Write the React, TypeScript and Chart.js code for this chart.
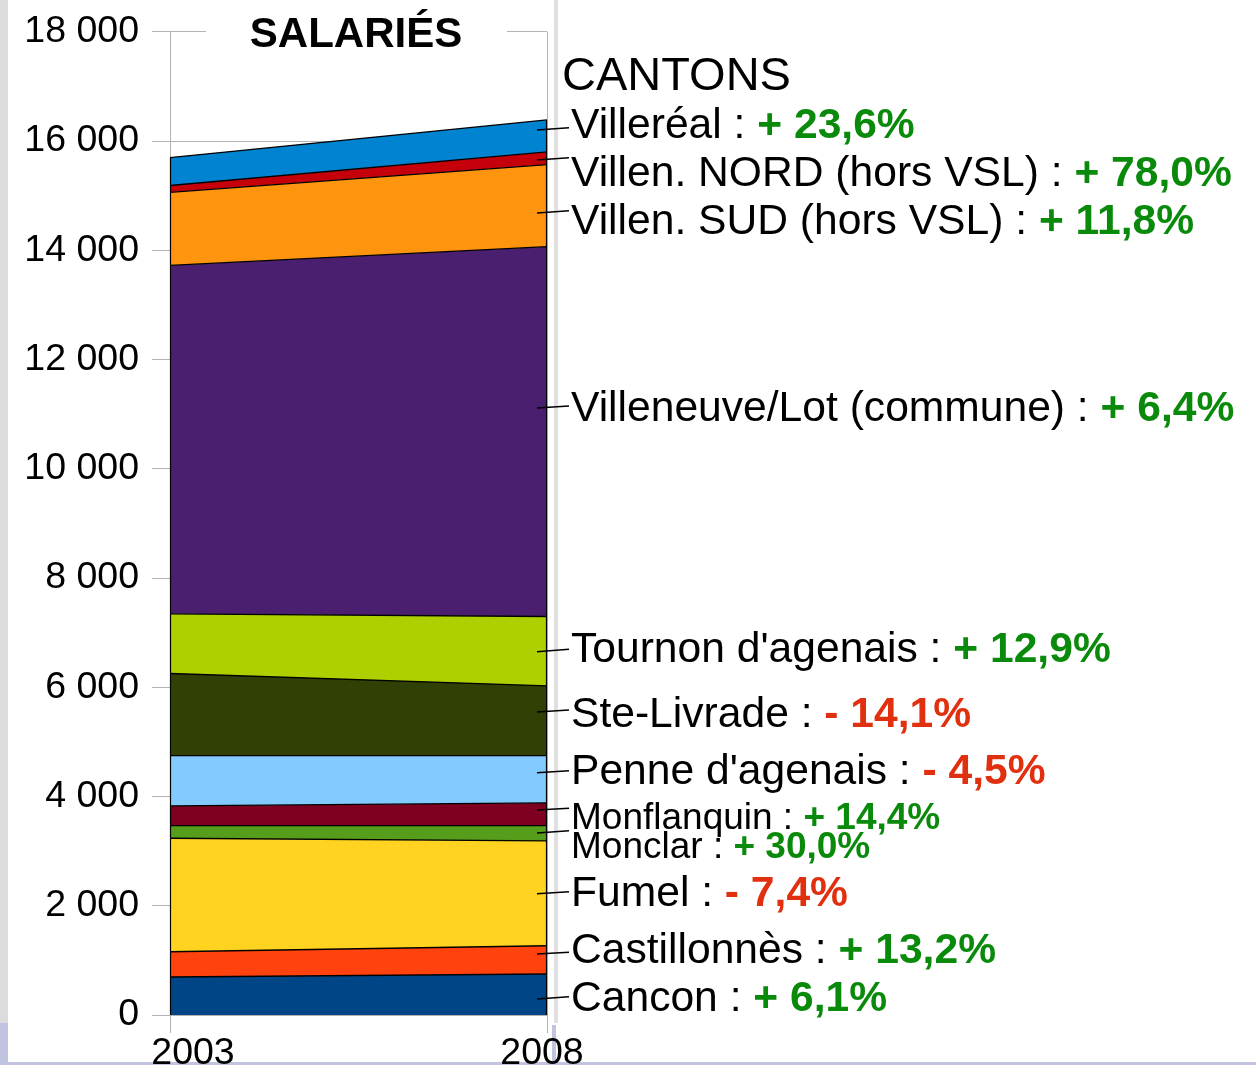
import React, { useEffect, useRef } from 'react';
import { Chart, registerables } from 'chart.js';
Chart.register(...registerables);

// ---- data ----
const years = ['2003', '2008'];
const cantons = [
  'Cancon', 'Castillonnès', 'Fumel', 'Monclar', 'Monflanquin', "Penne d'agenais",
  'Ste-Livrade', "Tournon d'agenais", 'Villeneuve/Lot (commune)',
  'Villen. SUD (hors VSL)', 'Villen. NORD (hors VSL)', 'Villeréal',
];
const cancon = [696, 751];
const castillonnes = [463, 518];
const fumel = [2077, 1918];
const monclar = [231, 280];
const monflanquin = [361, 416];
const penne = [921, 866];
const steLivrade = [1502, 1277];
const tournon = [1093, 1269];
const villeneuve = [6379, 6771];
const villenSud = [1337, 1502];
const villenNord = [125, 232];
const villereal = [511, 586];
const variations = ['+ 6,1%', '+ 13,2%', '- 7,4%', '+ 30,0%', '+ 14,4%', '- 4,5%', '- 14,1%', '+ 12,9%', '+ 6,4%', '+ 11,8%', '+ 78,0%', '+ 23,6%'];
const yMin = 0;
const yMax = 18000;
const yStep = 2000;
const title = 'SALARIÉS';
const legendTitle = 'CANTONS';

// ---- styles / layout ----
const seriesValues = [cancon, castillonnes, fumel, monclar, monflanquin, penne, steLivrade, tournon, villeneuve, villenSud, villenNord, villereal];
const fillColors = ['#004586', '#ff420e', '#ffd320', '#579d1c', '#7e0021', '#83caff', '#314004', '#aecf00', '#4b1f6f', '#ff950e', '#c5000b', '#0084d1'];
const labelCenterY = [996, 948, 890.5, 845, 815.5, 769, 712, 647, 406, 219, 171, 122.5];
const labelFontSize = [42.6, 42.6, 42.6, 37, 37, 42.6, 42.6, 42.6, 42.6, 42.6, 42.6, 42.6];
const leaderStartY = [999, 954, 893.7, 833, 810, 772.7, 712, 651.7, 408, 213, 160, 130];
const leaderEndY = [996.7, 952.3, 891.7, 830.7, 808.3, 770.7, 710, 649.3, 406, 210.7, 157.7, 127.7];
const FONT = "'Liberation Sans', Arial, sans-serif";
const GREEN = '#0a8a0a';
const RED = '#e0300f';
const GRID = '#b3b3b3';

function fmt(v: number): string {
  if (v < 1000) return String(v);
  return `${Math.floor(v / 1000)} ${String(v % 1000).padStart(3, '0')}`;
}

const decorPlugin = {
  id: 'decor',
  beforeDraw(chart: any) {
    const ctx = chart.ctx;
    const W = chart.width, H = chart.height;
    ctx.save();
    ctx.fillStyle = '#ffffff';
    ctx.fillRect(0, 0, W, H);
    ctx.fillStyle = '#dcdcdc';
    ctx.fillRect(0, 0, 8, 1023);
    ctx.fillStyle = '#e0e0e0';
    ctx.fillRect(554, 0, 4, 1023);
    ctx.fillStyle = '#c0c4e0';
    ctx.fillRect(0, 1023, 8, H - 1023);
    ctx.fillRect(552, 1025, 4, H - 1025);
    ctx.fillRect(0, 1062, W, H - 1062);
    ctx.restore();
  },
  afterDatasetsDraw(chart: any) {
    const ctx = chart.ctx;
    const x = chart.scales.x, y = chart.scales.y;
    ctx.save();
    ctx.strokeStyle = '#000';
    ctx.lineWidth = 1.2;
    years.forEach((_, i) => {
      const total = seriesValues.reduce((s, arr) => s + arr[i], 0);
      const px = Math.round(x.getPixelForValue(i)) + 0.5 * (i === 0 ? 1 : -1);
      ctx.beginPath();
      ctx.moveTo(px, y.getPixelForValue(0));
      ctx.lineTo(px, y.getPixelForValue(total));
      ctx.stroke();
    });
    ctx.restore();
  },
  afterDraw(chart: any) {
    const ctx = chart.ctx;
    const x = chart.scales.x;
    ctx.save();
    // title with white background over the top grid line
    ctx.fillStyle = '#ffffff';
    ctx.fillRect(206, 18, 301, 28);
    ctx.fillStyle = '#000';
    ctx.font = `bold 42px ${FONT}`;
    ctx.textAlign = 'center';
    ctx.textBaseline = 'alphabetic';
    ctx.fillText(title, 356, 47);

    // x labels
    ctx.font = `37.5px ${FONT}`;
    ctx.fillText(years[0], x.getPixelForValue(0) + 23, 1064);
    ctx.fillText(years[1], x.getPixelForValue(1) - 5, 1064);

    // legend title
    ctx.textAlign = 'left';
    ctx.font = `47px ${FONT}`;
    ctx.fillText(legendTitle, 562, 90);

    // leaders
    ctx.strokeStyle = '#000';
    ctx.lineWidth = 1.5;
    cantons.forEach((_, i) => {
      ctx.beginPath();
      ctx.moveTo(537, leaderStartY[i]);
      ctx.lineTo(569, leaderEndY[i]);
      ctx.stroke();
    });

    // labels
    cantons.forEach((name, i) => {
      const size = labelFontSize[i];
      const base = labelCenterY[i] + size * 0.716 / 2;
      const txt = name + ' : ';
      ctx.font = `${size}px ${FONT}`;
      ctx.fillStyle = '#000';
      ctx.fillText(txt, 571, base);
      const w = ctx.measureText(txt).width;
      ctx.font = `bold ${size}px ${FONT}`;
      ctx.fillStyle = variations[i].startsWith('-') ? RED : GREEN;
      ctx.fillText(variations[i], 571 + w, base);
    });
    ctx.restore();
  },
};

export default function App() {
  const ref = useRef<HTMLCanvasElement>(null);
  useEffect(() => {
    if (!ref.current) return;
    const chart = new Chart(ref.current, {
      type: 'line',
      data: {
        labels: years,
        datasets: cantons.map((name, i) => ({
          label: name,
          data: seriesValues[i],
          backgroundColor: fillColors[i],
          borderColor: '#000',
          borderWidth: 1.4,
          pointRadius: 0,
          tension: 0,
          fill: i === 0 ? 'origin' : '-1',
        })),
      },
      options: {
        responsive: false,
        animation: false,
        devicePixelRatio: 1,
        layout: { padding: { top: 27.5, right: 709, left: 0, bottom: 0 } },
        plugins: {
          legend: { display: false },
          tooltip: { enabled: false },
          title: { display: false },
        },
        scales: {
          x: {
            type: 'category',
            offset: false,
            grid: { color: GRID, tickLength: 18, drawTicks: true },
            border: { color: GRID },
            ticks: { display: false },
            afterFit: (s: any) => { s.height = 50; },
          },
          y: {
            stacked: true,
            min: yMin,
            max: yMax,
            ticks: {
              stepSize: yStep,
              padding: 13,
              color: '#000',
              font: { family: FONT, size: 37.5, lineHeight: 1 },
              callback: (v: any) => fmt(Number(v)),
            },
            grid: { color: GRID, tickLength: 18 },
            border: { color: GRID },
            afterFit: (s: any) => { s.width = 170; },
          },
        },
      },
      plugins: [decorPlugin],
    } as any);
    return () => chart.destroy();
  }, []);
  return (
    <canvas
      ref={ref}
      width={1256}
      height={1065}
      style={{ position: 'absolute', left: 0, top: 0, display: 'block' }}
    />
  );
}
